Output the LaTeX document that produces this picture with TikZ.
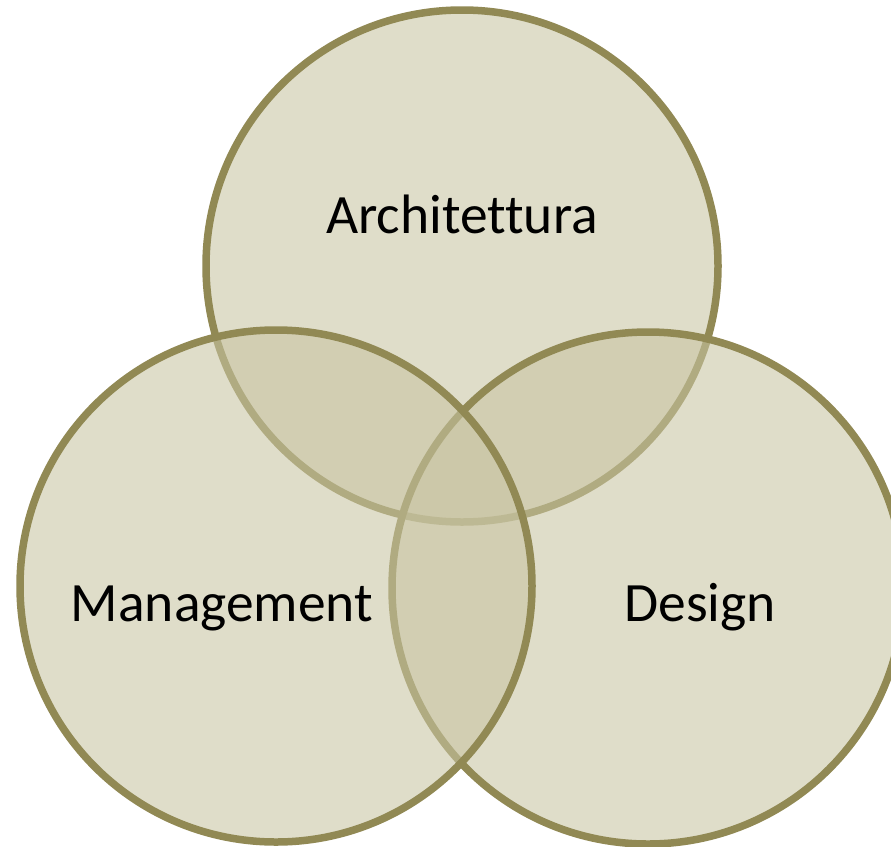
\documentclass[tikz,border=0pt]{standalone}
\usepackage{fontspec}
\setmainfont[Ligatures=NoCommon]{Carlito}
\begin{document}
\begin{tikzpicture}[x=1pt,y=-1pt]
    %colores
    \definecolor{relleno}{RGB}{200,196,162}
    \definecolor{borde}{RGB}{145,137,84}
    \tikzset{
        conjunto/.style={circle,minimum size=512pt,inner sep=0pt,fill=relleno,
            fill opacity=0.58,draw=borde,draw opacity=1,line width=7.5pt},
        etiqueta/.style={anchor=base,font=\fontsize{55.5}{60}\selectfont,text=black}
    }

    % marco
    \useasboundingbox (0,0) rectangle (891,846);
    \clip (0,0) rectangle (891,846);

    % circulos: arriba, derecha, izquierda
    \node[conjunto] (arq) at (462,266) {};
    \node[conjunto] (dis) at (648,588) {};
    \node[conjunto] (ges) at (276,586) {};

    % textos
    \node[etiqueta] (tarq) at (462,233) {Architettura};
    \node[etiqueta] (tges) at (222,621) {Management};
    \node[etiqueta] (tdis) at (700,621) {Design};
\end{tikzpicture}
\end{document}
